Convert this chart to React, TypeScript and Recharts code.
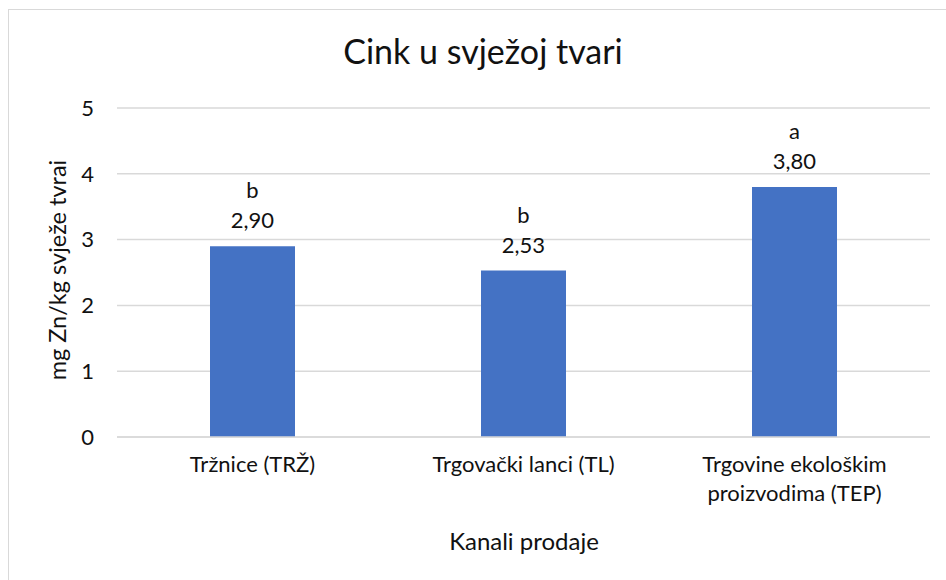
import React from 'react';
import { BarChart, Bar, XAxis, YAxis, CartesianGrid, LabelList } from 'recharts';

const categories = ['Tržnice (TRŽ)', 'Trgovački lanci (TL)', 'Trgovine ekološkim proizvodima (TEP)'];
const values = [2.9, 2.53, 3.8];
const letters = ['b', 'b', 'a'];
const yTicks = [0, 1, 2, 3, 4, 5];

const data = categories.map((name, i) => ({ name, value: values[i], letter: letters[i] }));

const FONT = 'Lato, "Open Sans", sans-serif';
const TEXT = '#111';

const fmt = (v: number) => v.toFixed(2).replace('.', ',');

// simple word wrap by character count
const wrap = (s: string, max = 20) => {
  const lines: string[] = [];
  let cur = '';
  s.split(' ').forEach((w) => {
    const next = cur ? cur + ' ' + w : w;
    if (next.length > max && cur) {
      lines.push(cur);
      cur = w;
    } else {
      cur = next;
    }
  });
  if (cur) lines.push(cur);
  return lines;
};

const CategoryTick = ({ x, y, payload }: any) => (
  <text x={x} y={y + 27} textAnchor="middle" fontFamily={FONT} fontSize={22} fill={TEXT}>
    {wrap(payload.value).map((line, i) => (
      <tspan key={i} x={x} dy={i === 0 ? 0 : 29}>
        {line}
      </tspan>
    ))}
  </text>
);

const BarLabel = ({ x, y, width, index }: any) => {
  const cx = x + width / 2;
  return (
    <g fontFamily={FONT} fontSize={22} fill={TEXT} textAnchor="middle">
      <text x={cx} y={y - 48}>{letters[index]}</text>
      <text x={cx} y={y - 18}>{fmt(values[index])}</text>
    </g>
  );
};

export default function App() {
  return (
    <div style={{ position: 'relative', width: 946, height: 580, overflow: 'hidden', background: '#fff', fontFamily: FONT }}>
      <style>{'body{margin:0}'}</style>
      <div
        style={{
          position: 'absolute',
          left: 8,
          top: 9,
          width: 1000,
          height: 700,
          borderLeft: '1.5px solid #d9d9d9',
          borderTop: '1.5px solid #d9d9d9',
        }}
      />
      <div
        style={{
          position: 'absolute',
          left: 0,
          width: 966,
          top: 30,
          textAlign: 'center',
          fontSize: 34,
          color: TEXT,
        }}
      >
        Cink u svježoj tvari
      </div>
      <div
        style={{
          position: 'absolute',
          left: 57,
          top: 270,
          transform: 'translate(-50%, -50%) rotate(-90deg)',
          whiteSpace: 'nowrap',
          fontSize: 23.5,
          color: TEXT,
        }}
      >
        mg Zn/kg svježe tvrai
      </div>
      <div
        style={{
          position: 'absolute',
          left: 524,
          top: 540,
          transform: 'translate(-50%, -50%)',
          whiteSpace: 'nowrap',
          fontSize: 24,
          color: TEXT,
        }}
      >
        Kanali prodaje
      </div>
      <div style={{ position: 'absolute', left: 0, top: 0 }}>
        <BarChart width={946} height={580} data={data} margin={{ top: 108, right: 16, bottom: 83, left: 0 }}>
          <CartesianGrid vertical={false} stroke="#d9d9d9" strokeWidth={1.5} />
          <XAxis
            dataKey="name"
            height={60}
            axisLine={{ stroke: '#d9d9d9', strokeWidth: 1.5 }}
            tickLine={false}
            interval={0}
            tick={<CategoryTick />}
          />
          <YAxis
            width={117}
            domain={[0, 5]}
            ticks={yTicks}
            axisLine={false}
            tickLine={false}
            tickMargin={17}
            tick={{ fontFamily: FONT, fontSize: 22, fill: TEXT }}
          />
          <Bar dataKey="value" fill="#4472C4" barSize={85} isAnimationActive={false}>
            <LabelList dataKey="value" content={<BarLabel />} />
          </Bar>
        </BarChart>
      </div>
    </div>
  );
}
